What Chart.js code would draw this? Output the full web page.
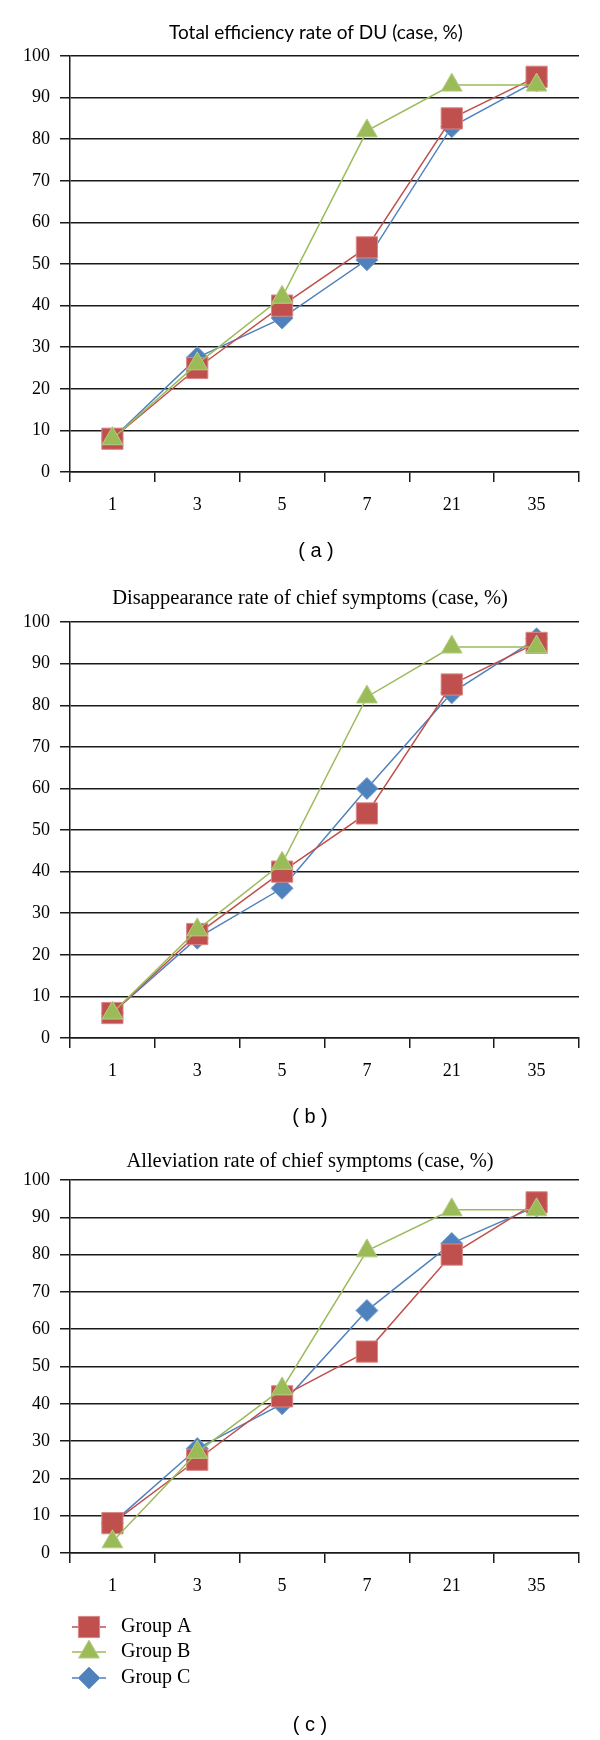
<!DOCTYPE html>
<html>
<head>
<meta charset="utf-8">
<script src="https://cdn.jsdelivr.net/npm/chart.js@4.4.1/dist/chart.umd.min.js"></script>
<style>
  body { margin: 0; background: #fff; width: 600px; height: 1740px; position: relative; overflow: hidden; }
  .box { position: absolute; left: 0; width: 600px; }
</style>
</head>
<body>
<div class="box" style="top:0;height:570px"><canvas id="chartTotal"></canvas></div>
<div class="box" style="top:566px;height:570px"><canvas id="chartDisappear"></canvas></div>
<div class="box" style="top:1132px;height:608px"><canvas id="chartAlleviate"></canvas></div>
<script>
// days of treatment (x categories)
const days = ['1', '3', '5', '7', '21', '35'];
const yMax = 100;
const yStep = 10;

// Total efficiency rate of DU
const totalA = [8, 25, 40, 54, 85, 95];
const totalB = [8, 26, 42, 82, 93, 93];
const totalC = [8, 27.5, 37, 51, 83, 94];

// Disappearance rate of chief symptoms
const disappearA = [6, 25, 40, 54, 85, 95];
const disappearB = [6, 26, 42, 82, 94, 94];
const disappearC = [6, 24, 36, 60, 83, 96];

// Alleviation rate of chief symptoms
const alleviateA = [8, 25, 42, 54, 80, 94];
const alleviateB = [3, 27, 44, 81, 92, 92];
const alleviateC = [8, 28, 40, 65, 83, 93];

const groupNames = ['Group A', 'Group B', 'Group C'];

const ink = '#1a1a1a';
const serifFamily = '"Liberation Serif", "DejaVu Serif", serif';
const serif = { family: serifFamily, size: 18 };
const serifTitle = { family: serifFamily, size: 20.5 };
const sansTitle = { family: 'Lato, "Liberation Sans", sans-serif', size: 19 };

// y labels are mirrored (so they are not clipped to the narrow axis box),
// then pushed back to the left of the axis by a negative padding
const measure = document.createElement('canvas').getContext('2d');
measure.font = '18px ' + serifFamily;
const widestLabel = measure.measureText(String(yMax)).width;

function series(label, data, color, edge, style, radius, order) {
    return {
        label: label,
        data: data,
        borderColor: color,
        backgroundColor: color,
        borderWidth: 1.5,
        pointBackgroundColor: color,
        pointBorderColor: edge,
        pointBorderWidth: 1,
        pointStyle: style,
        pointRadius: radius,
        pointHoverRadius: radius,
        tension: 0,
        fill: false,
        order: order
    };
}

// legend drawn as three stacked rows under the x axis of the last chart
const legendRows = {
    id: 'legendRows',
    afterDraw(chart, args, opts) {
        const ctx = chart.ctx;
        const base = chart.chartArea.bottom;
        chart.data.datasets.forEach((ds, i) => {
            const y = base + opts.rowY[i];
            const mx = (opts.x0 + opts.x1) / 2;
            ctx.save();
            ctx.strokeStyle = ds.borderColor;
            ctx.lineWidth = 1.5;
            ctx.beginPath();
            ctx.moveTo(opts.x0, y);
            ctx.lineTo(opts.x1, y);
            ctx.stroke();
            ctx.fillStyle = ds.pointBackgroundColor;
            ctx.strokeStyle = ds.pointBorderColor;
            ctx.lineWidth = 1;
            Chart.helpers.drawPoint(ctx, {
                pointStyle: ds.pointStyle,
                radius: ds.pointRadius,
                rotation: 0,
                borderWidth: 1
            }, mx, y);
            ctx.fillStyle = '#000';
            ctx.font = '20px ' + serifFamily;
            ctx.textBaseline = 'middle';
            ctx.textAlign = 'left';
            ctx.fillText(ds.label, opts.textX, y);
            ctx.restore();
        });
    }
};

function buildChart(id, cfg) {
    const el = document.getElementById(id);
    if (!el) return;
    new Chart(el, {
        type: 'line',
        data: {
            labels: days,
            datasets: [
                series(groupNames[0], cfg.a, '#C0504D', '#D98886', 'rect', 15, 2),
                series(groupNames[1], cfg.b, '#9BBB59', '#B5CE85', 'triangle', 12, 1),
                series(groupNames[2], cfg.c, '#4F81BD', '#7A9FCC', 'rectRot', 11, 3)
            ]
        },
        plugins: cfg.legend ? [legendRows] : [],
        options: {
            responsive: true,
            maintainAspectRatio: false,
            animation: false,
            events: [],
            layout: { padding: { left: cfg.padLeft, right: 21, top: 0, bottom: 0 } },
            plugins: {
                legend: { display: false },
                tooltip: { enabled: false },
                title: {
                    display: true,
                    text: cfg.title,
                    color: '#000',
                    font: Object.assign({ weight: 'normal' }, cfg.titleFont),
                    padding: cfg.titlePad
                },
                subtitle: {
                    display: true,
                    position: 'bottom',
                    text: cfg.caption,
                    color: '#000',
                    font: { family: '"Liberation Sans", sans-serif', size: 20 },
                    padding: cfg.capPad
                },
                legendRows: { rowY: [74, 99, 125], x0: 72, x1: 106, textX: 121 }
            },
            scales: {
                x: {
                    offset: true,
                    grid: {
                        offset: true,
                        color: c => c.index === days.length ? ink : 'transparent',
                        tickColor: ink,
                        tickLength: 10,
                        lineWidth: 1.5
                    },
                    border: { color: ink, width: 1.5 },
                    ticks: { color: '#000', font: serif, padding: 12, maxRotation: 0 },
                    afterFit: s => { s.height = cfg.xHeight; }
                },
                y: {
                    min: 0,
                    max: yMax,
                    ticks: {
                        stepSize: yStep,
                        color: '#000',
                        font: serif,
                        mirror: true,
                        crossAlign: 'far',
                        padding: -(20 + widestLabel)
                    },
                    grid: { color: ink, tickColor: ink, tickLength: 10, lineWidth: 1.5 },
                    border: { color: ink, width: 1.5 },
                    afterFit: s => { s.width = 70 - cfg.padLeft; }
                }
            }
        }
    });
}

buildChart('chartTotal', {
    a: totalA, b: totalB, c: totalC,
    title: 'Total efficiency rate of DU (case, %)',
    titleFont: sansTitle,
    titlePad: { top: 21.6, bottom: 11.6 },
    caption: '( a )',
    capPad: { top: 17, bottom: 7 },
    padLeft: 53,
    xHeight: 50
});

buildChart('chartDisappear', {
    a: disappearA, b: disappearB, c: disappearC,
    title: 'Disappearance rate of chief symptoms (case, %)',
    titleFont: serifTitle,
    titlePad: { top: 20.5, bottom: 11 },
    caption: '( b )',
    capPad: { top: 17, bottom: 7 },
    padLeft: 41,
    xHeight: 50
});

buildChart('chartAlleviate', {
    a: alleviateA, b: alleviateB, c: alleviateC,
    title: 'Alleviation rate of chief symptoms (case, %)',
    titleFont: serifTitle,
    titlePad: { top: 17.7, bottom: 5.7 },
    caption: '( c )',
    capPad: { top: 10, bottom: 3 },
    padLeft: 41,
    xHeight: 150,
    legend: true
});
</script>
</body>
</html>
